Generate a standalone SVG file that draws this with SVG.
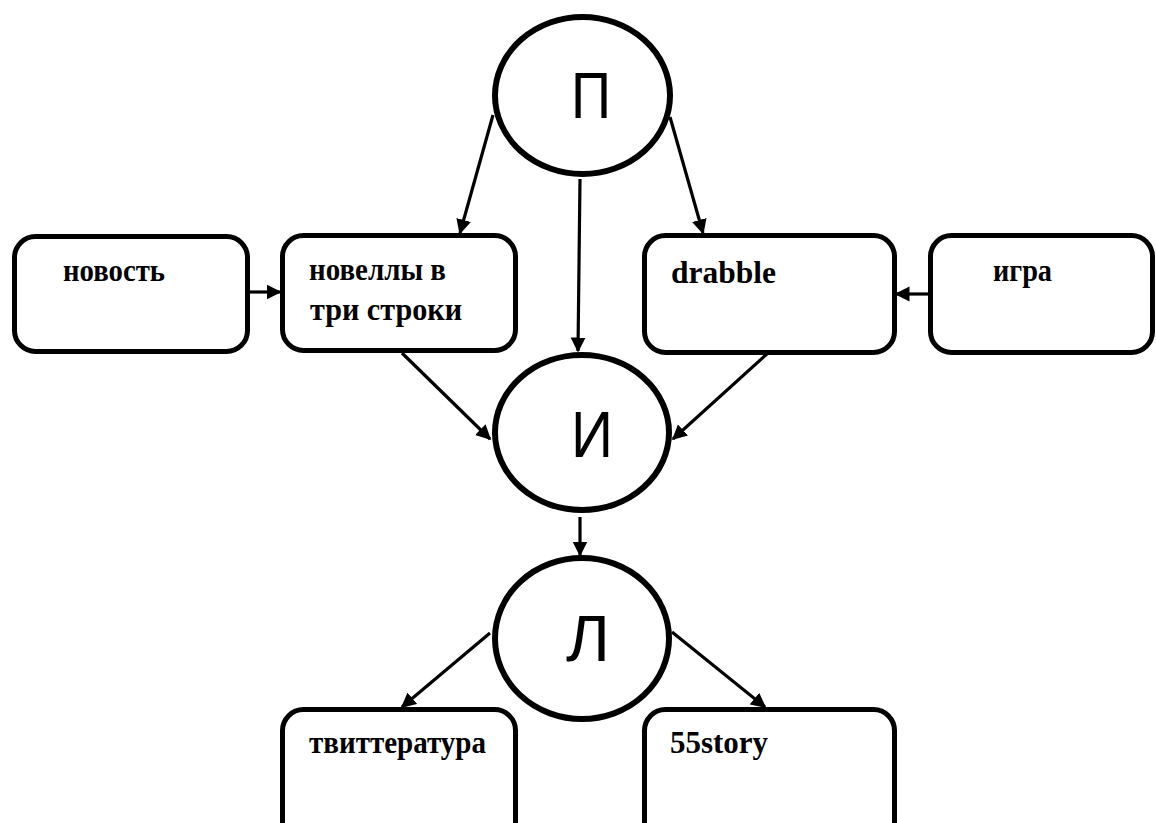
<svg xmlns="http://www.w3.org/2000/svg" width="1156" height="823" viewBox="0 0 1156 823">
<style>
.box{fill:#fff;stroke:#000;stroke-width:5}
.circ{fill:#fff;stroke:#000;stroke-width:6}
.lbl{font-family:"Liberation Serif","Times New Roman",serif;font-weight:bold;font-size:32px;fill:#000}
.big{font-family:"Liberation Sans",Arial,sans-serif;font-size:64px;fill:#000;text-anchor:middle}
.edge{stroke:#000;stroke-width:3.2;fill:none;marker-end:url(#arr)}
</style>
<defs>
<marker id="arr" viewBox="0 0 10 10" refX="9" refY="5" markerWidth="15" markerHeight="16" markerUnits="userSpaceOnUse" orient="auto">
<path d="M0,0 L10,5 L0,10 z" fill="#000"/>
</marker>
</defs>
<rect width="1156" height="823" fill="#fff"/>
<g id="connectors">
<line class="edge" x1="493" y1="115" x2="460" y2="233"/>
<line class="edge" x1="580" y1="179" x2="578" y2="351"/>
<line class="edge" x1="670" y1="117" x2="703" y2="233"/>
<line class="edge" x1="250" y1="292" x2="280" y2="292"/>
<line class="edge" x1="928" y1="294" x2="896" y2="294"/>
<line class="edge" x1="402" y1="353" x2="490" y2="439"/>
<line class="edge" x1="768" y1="353" x2="673" y2="439"/>
<line class="edge" x1="580" y1="517" x2="580" y2="555"/>
<line class="edge" x1="490" y1="633" x2="402" y2="707"/>
<line class="edge" x1="672" y1="632" x2="765" y2="707"/>
</g>
<g id="node-p">
<ellipse class="circ" cx="582.5" cy="95.5" rx="87.5" ry="78.5"/>
<text class="big" x="591" y="118" textLength="40" lengthAdjust="spacingAndGlyphs">П</text>
</g>
<g id="node-i">
<ellipse class="circ" cx="582" cy="432.5" rx="87" ry="77.5"/>
<text class="big" x="592" y="457" textLength="42" lengthAdjust="spacingAndGlyphs">И</text>
</g>
<g id="node-l">
<ellipse class="circ" cx="582" cy="638.5" rx="87" ry="80.5"/>
<text class="big" x="588" y="661" textLength="44" lengthAdjust="spacingAndGlyphs">Л</text>
</g>
<g id="node-novost">
<rect class="box" x="14.5" y="236.5" width="233" height="115" rx="21"/>
<text class="lbl" x="63" y="281" textLength="102" lengthAdjust="spacingAndGlyphs">новость</text>
</g>
<g id="node-novelly">
<rect class="box" x="282.5" y="235.5" width="233" height="115" rx="21"/>
<text class="lbl" x="309" y="280" textLength="137" lengthAdjust="spacingAndGlyphs">новеллы в</text>
<text class="lbl" x="310" y="320" textLength="152" lengthAdjust="spacingAndGlyphs">три строки</text>
</g>
<g id="node-drabble">
<rect class="box" x="644.5" y="235.5" width="250" height="117" rx="21"/>
<text class="lbl" x="671" y="283" textLength="105" lengthAdjust="spacingAndGlyphs">drabble</text>
</g>
<g id="node-igra">
<rect class="box" x="930.5" y="235.5" width="222" height="117" rx="21"/>
<text class="lbl" x="993" y="281" textLength="59" lengthAdjust="spacingAndGlyphs">игра</text>
</g>
<g id="node-twitter">
<rect class="box" x="282.5" y="709.5" width="233" height="140" rx="21"/>
<text class="lbl" x="309" y="753" textLength="177" lengthAdjust="spacingAndGlyphs">твиттература</text>
</g>
<g id="node-55story">
<rect class="box" x="644.5" y="709.5" width="250" height="140" rx="21"/>
<text class="lbl" x="670" y="753" textLength="98" lengthAdjust="spacingAndGlyphs">55story</text>
</g>
</svg>
